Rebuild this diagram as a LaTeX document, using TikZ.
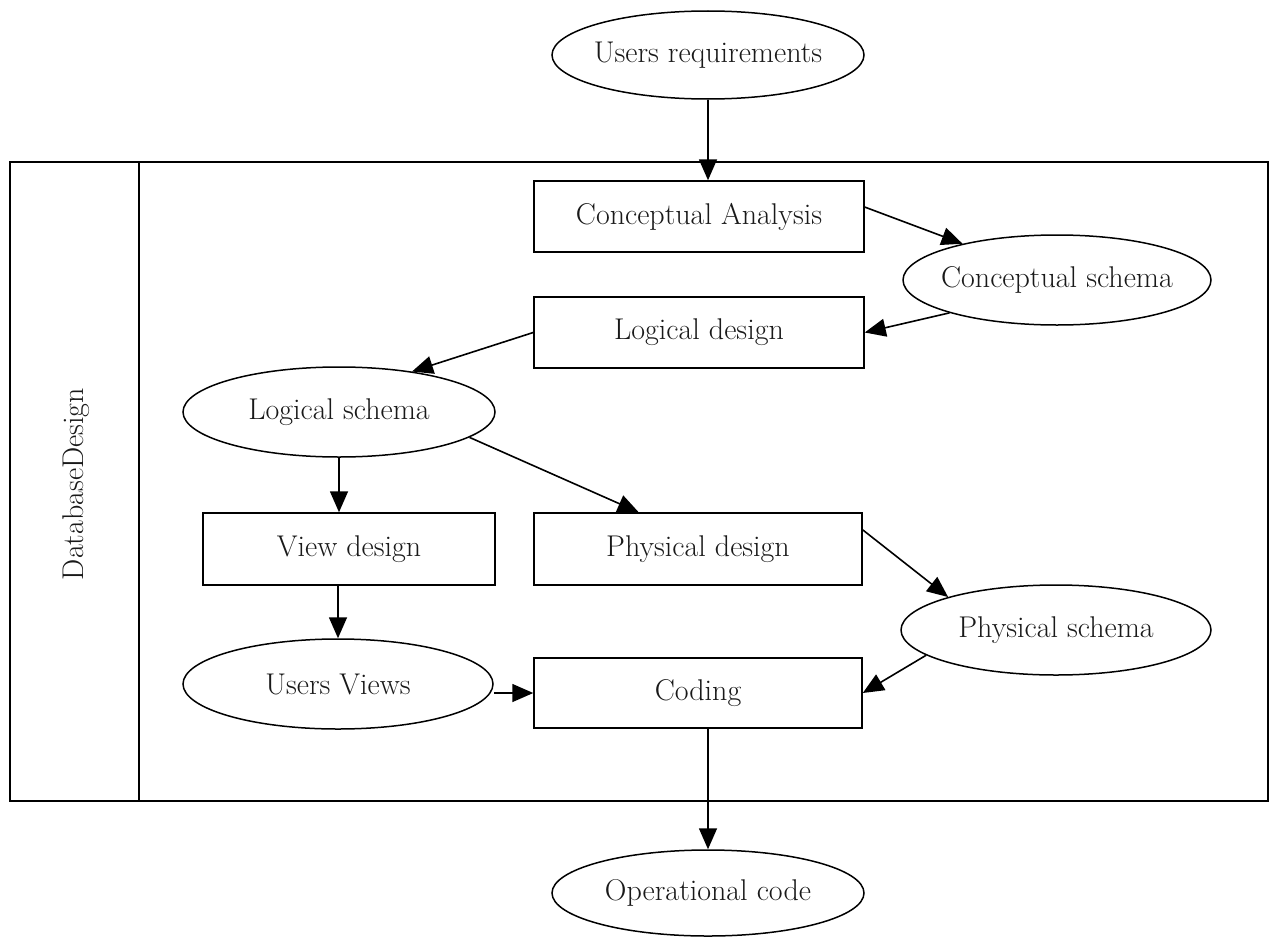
\documentclass[tikz,border=0pt]{standalone}
\usetikzlibrary{shapes.geometric,arrows.meta,calc}
\begin{document}
\begin{tikzpicture}[x=1pt,y=-1pt,
  lbl/.style={font=\fontsize{30}{36}\selectfont, text=black!90},
  stage/.style={lbl, draw, line width=1.5pt, minimum width=330pt, minimum height=71pt, inner sep=0pt},
  data/.style={lbl, draw, ellipse, line width=1.5pt, minimum width=312pt, minimum height=88pt, inner xsep=-12pt, inner ysep=0pt},
  flow/.style={line width=1.6pt, -{Triangle[length=21pt,width=18pt]}}]
\useasboundingbox (0,0) rectangle (1273,942);

% frame with the side title
\node (frame) [draw, line width=1.5pt, minimum width=1258pt, minimum height=639pt, inner sep=0pt] at (639,481.5) {};
\coordinate (divtop) at (139,162);
\coordinate (divbot) at (139,801);
\draw[line width=1.5pt] (divtop) -- (divbot);
\node[lbl, rotate=90] (title) at (76,484) {DatabaseDesign};

% stages and their products
\node[data] (ur) at (708,55) {Users requirements};
\node[stage] (ca) at (699,216.5) {Conceptual Analysis};
\node[data, minimum width=308pt, minimum height=90pt] (cs) at (1057,280) {Conceptual schema};
\node[stage] (ld) at (699,332.5) {Logical design};
\node[data, minimum height=90pt] (ls) at (339,412) {Logical schema};
\node[stage, minimum width=292pt, minimum height=72pt] (vd) at (349,549) {View design};
\node[stage, minimum width=328pt, minimum height=72pt] (pd) at (698,549) {Physical design};
\node[data, minimum width=310pt, minimum height=90pt] (ps) at (1056,630) {Physical schema};
\node[data, minimum width=310pt, minimum height=90pt] (uv) at (338,684) {Users Views};
\node[stage, minimum width=328pt, minimum height=70pt] (cod) at (698,693) {Coding};
\node[data, minimum height=86pt] (oc) at (708,893) {Operational code};

% flow
\draw[flow] (ur.south) -- (ur.south |- ca.north);
\draw[flow] ($(ca.north east)!0.37!(ca.south east)$) -- (cs.159);
\draw[flow] (cs.197) -- (ld.east);
\draw[flow] (ld.west) -- (ls.29);
\draw[flow] (ls.south) -- (ls.south |- vd.north);
\draw[flow] (ls.-11) -- ($(pd.north west)!0.32!(pd.north east)$);
\draw[flow] ($(pd.north east)!0.24!(pd.south east)$) -- (ps.163);
\draw[flow] (ps.191) -- (cod.east);
\draw[flow] (vd.south -| uv.north) -- (uv.north);
\draw[flow] (uv.east |- cod.west) -- (cod.west);
\draw[flow] (cod.south -| oc.north) -- (oc.north);
\end{tikzpicture}
\end{document}
